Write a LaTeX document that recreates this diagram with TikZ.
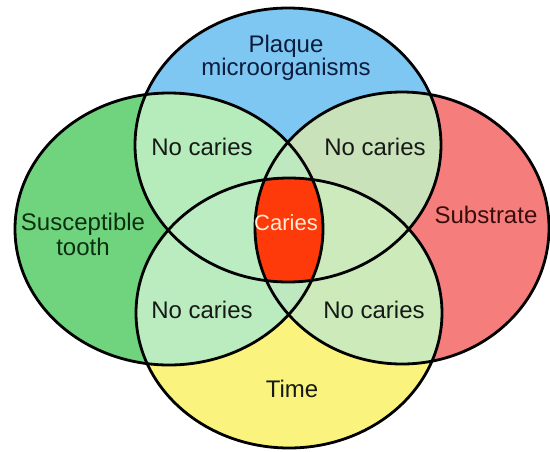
\documentclass[tikz,border=0pt]{standalone}
\usepackage{fontspec}
\setmainfont{Liberation Sans}
\definecolor{cG}{RGB}{112,212,126}
\definecolor{cR}{RGB}{245,126,124}
\definecolor{cB}{RGB}{126,199,243}
\definecolor{cY}{RGB}{250,244,126}
\definecolor{pGB}{RGB}{182,236,188}
\definecolor{pRB}{RGB}{202,226,186}
\definecolor{pGY}{RGB}{186,236,192}
\definecolor{pRY}{RGB}{204,234,186}
\definecolor{pGBY}{RGB}{188,236,194}
\definecolor{pRBY}{RGB}{204,234,188}
\definecolor{pGR}{RGB}{190,232,192}
\definecolor{cCar}{RGB}{255,58,10}
\definecolor{txt}{RGB}{22,26,22}
\definecolor{txtB}{RGB}{12,28,60}
\definecolor{txtG}{RGB}{10,48,16}
\definecolor{txtR}{RGB}{58,12,12}
\definecolor{txtC}{RGB}{255,236,210}
\begin{document}
\begin{tikzpicture}[x=1pt,y=-1pt,
  lbl/.style={inner sep=0pt, font=\fontsize{24}{25}\selectfont, text=txt, align=center},
  ring/.style={draw=black, line width=2.8pt}]
\useasboundingbox (0,0) rectangle (550,451);
\clip (0,0) rectangle (550,451);
\def\G{(169,229) ellipse [x radius=154pt, y radius=136pt]}
\def\R{(402,228) ellipse [x radius=147pt, y radius=136pt]}
\def\B{(288,145) ellipse [x radius=153pt, y radius=137pt]}
\def\Y{(289,313) ellipse [x radius=153pt, y radius=135pt]}
% base fills
\fill[cG] \G;
\fill[cR] \R;
\fill[cB] \B;
\fill[cY] \Y;
% pairwise overlaps
\begin{scope}\clip \G; \fill[pGB] \B; \fill[pGY] \Y;\end{scope}
\begin{scope}\clip \R; \fill[pRB] \B; \fill[pRY] \Y;\end{scope}
% triple overlaps
\begin{scope}\clip \G; \clip \B; \fill[pGBY] \Y;\end{scope}
\begin{scope}\clip \R; \clip \B; \fill[pRBY] \Y;\end{scope}
\begin{scope}\clip \G; \clip \R; \fill[pGR] (0,0) rectangle (550,451);\end{scope}
% all four
\begin{scope}\clip \G; \clip \R; \clip \B; \fill[cCar] \Y;\end{scope}
% outlines
\draw[ring] \G;
\draw[ring] \R;
\draw[ring] \B;
\draw[ring] \Y;
% labels
\node[lbl, text=txtB, font=\fontsize{24}{23}\selectfont] (plaque) at (286,57.5) {Plaque\\microorganisms};
\node[lbl, text=txtG] (tooth) at (83,234) {Susceptible\\tooth};
\node[lbl, text=txtR, anchor=base] (substrate) at (486,223) {Substrate};
\node[lbl, anchor=base] (time) at (292,397) {Time};
\node[lbl, text=txtC, anchor=base, font=\fontsize{22}{22}\selectfont] (caries) at (286,230) {Caries};
\node[lbl, anchor=base] (nc1) at (202,155) {No caries};
\node[lbl, anchor=base] (nc2) at (375,155) {No caries};
\node[lbl, anchor=base] (nc3) at (202,318) {No caries};
\node[lbl, anchor=base] (nc4) at (374,318) {No caries};
\end{tikzpicture}
\end{document}
